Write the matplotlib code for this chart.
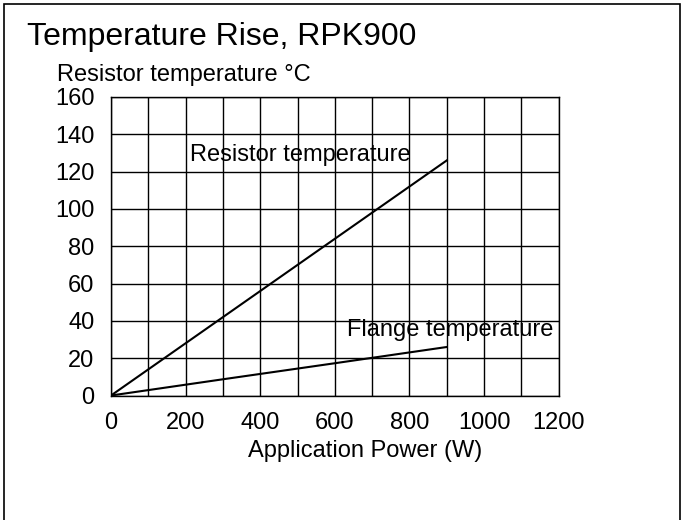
import matplotlib
matplotlib.use('Agg')
import matplotlib.pyplot as plt
from matplotlib.patches import Rectangle

plt.rcParams['font.family'] = ['Liberation Sans', 'DejaVu Sans']

power = [0, 300, 600, 900]
resistor_temp = [0, 42, 84, 126]
flange_temp = [0, 8.7, 17.3, 26]
x_ticks = [0, 200, 400, 600, 800, 1000, 1200]
y_ticks = [0, 20, 40, 60, 80, 100, 120, 140, 160]

fig = plt.figure(figsize=(6.83, 5.2), dpi=100)
ax = fig.add_axes([0.1625, 0.2394, 0.6555, 0.5741])

ax.plot(power, resistor_temp, color='black', lw=1.5)
ax.plot(power, flange_temp, color='black', lw=1.5)

ax.set_xlim(0, 1200)
ax.set_ylim(0, 160)
# gridlines every 100 W, labels every 200 W
ax.set_xticks(range(0, 1201, 100))
ax.set_xticklabels([str(v) if v in x_ticks else '' for v in range(0, 1201, 100)])
ax.set_yticks(y_ticks)
ax.grid(True, color='black', lw=1)
ax.tick_params(length=0, labelsize=17, pad=12)
ax.tick_params(axis='x', pad=12)
for s in ax.spines.values():
    s.set_color('black')
    s.set_linewidth(1)

ax.text(212, 129, 'Resistor temperature', fontsize=17, va='center', ha='left')
ax.text(633, 35, 'Flange temperature', fontsize=17, va='center', ha='left')

fig.text(27 / 683, 1 - 37 / 520, 'Temperature Rise, RPK900', fontsize=23, va='center', ha='left')
fig.text(57 / 683, 1 - 75 / 520, 'Resistor temperature \u00b0C', fontsize=17, va='center', ha='left')
fig.text(365 / 683, 1 - 451 / 520, 'Application Power (W)', fontsize=17, va='center', ha='center')

# outer frame, bottom edge cut off by the image
fig.patches.append(Rectangle((4 / 683, -0.05), 676 / 683, 1.05 - 4 / 520,
                             transform=fig.transFigure, fill=False, ec='black', lw=1.2))

fig.savefig('out.png', dpi=100)
